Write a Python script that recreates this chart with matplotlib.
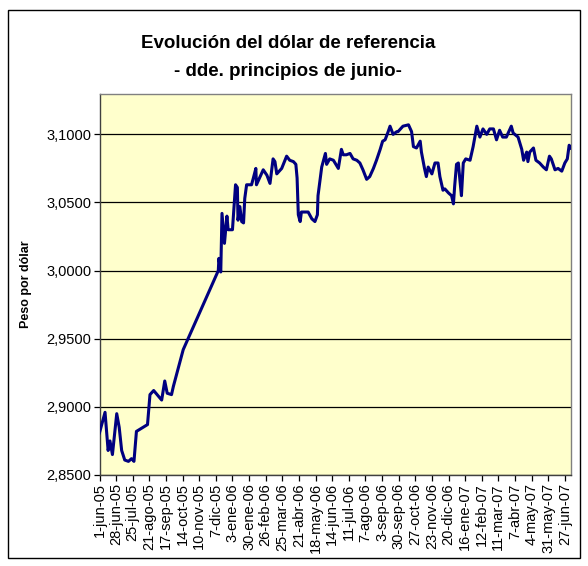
import numpy as np
import pandas as pd
import matplotlib
matplotlib.use('Agg')
import matplotlib.pyplot as plt
from matplotlib.ticker import FuncFormatter
from matplotlib.patches import Rectangle

plt.rcParams['font.family'] = ['Liberation Sans', 'DejaVu Sans']

# dolar de referencia
fechas = ['2005-06-01', '2005-06-10', '2005-06-15', '2005-06-18', '2005-06-22',
          '2005-06-29', '2005-07-03', '2005-07-07', '2005-07-12', '2005-07-18',
          '2005-07-23', '2005-07-27', '2005-07-31', '2005-08-18', '2005-08-22',
          '2005-08-28', '2005-09-10', '2005-09-15', '2005-09-19', '2005-09-26',
          '2005-09-29', '2005-10-15', '2005-12-11', '2005-12-12', '2005-12-15',
          '2005-12-17', '2005-12-21', '2005-12-25', '2005-12-27', '2006-01-03',
          '2006-01-08', '2006-01-11', '2006-01-12', '2006-01-15', '2006-01-18',
          '2006-01-21', '2006-01-23', '2006-01-26', '2006-02-03', '2006-02-06',
          '2006-02-10', '2006-02-11', '2006-02-17', '2006-02-22', '2006-02-28',
          '2006-03-05', '2006-03-10', '2006-03-13', '2006-03-16', '2006-03-24',
          '2006-04-01', '2006-04-06', '2006-04-12', '2006-04-16', '2006-04-18',
          '2006-04-19', '2006-04-20', '2006-04-23', '2006-04-25', '2006-05-06',
          '2006-05-12', '2006-05-17', '2006-05-21', '2006-05-22', '2006-05-28',
          '2006-06-03', '2006-06-05', '2006-06-10', '2006-06-16', '2006-06-20',
          '2006-06-24', '2006-06-29', '2006-07-02', '2006-07-07', '2006-07-13',
          '2006-07-18', '2006-07-24', '2006-07-29', '2006-08-03', '2006-08-09',
          '2006-08-14', '2006-08-20', '2006-08-25', '2006-08-31', '2006-09-04',
          '2006-09-08', '2006-09-13', '2006-09-16', '2006-09-21', '2006-09-27',
          '2006-09-29', '2006-10-07', '2006-10-16', '2006-10-21', '2006-10-24',
          '2006-10-29', '2006-11-04', '2006-11-06', '2006-11-11', '2006-11-14',
          '2006-11-17', '2006-11-23', '2006-11-28', '2006-12-03', '2006-12-06',
          '2006-12-11', '2006-12-14', '2006-12-20', '2006-12-25', '2006-12-28',
          '2006-12-30', '2007-01-02', '2007-01-05', '2007-01-07', '2007-01-10',
          '2007-01-13', '2007-01-17', '2007-01-24', '2007-01-29', '2007-02-04',
          '2007-02-09', '2007-02-14', '2007-02-20', '2007-02-25', '2007-03-03',
          '2007-03-08', '2007-03-13', '2007-03-18', '2007-03-24', '2007-04-01',
          '2007-04-04', '2007-04-12', '2007-04-18', '2007-04-21', '2007-04-26',
          '2007-04-28', '2007-05-01', '2007-05-07', '2007-05-11', '2007-05-17',
          '2007-05-23', '2007-05-28', '2007-06-02', '2007-06-05', '2007-06-11',
          '2007-06-16', '2007-06-22', '2007-06-27', '2007-07-01', '2007-07-04',
          '2007-07-07']
valores = [2.881, 2.896, 2.868, 2.875, 2.865, 2.895, 2.885, 2.868, 2.861, 2.860,
           2.862, 2.860, 2.882, 2.887, 2.909, 2.912, 2.905, 2.919, 2.910, 2.909,
           2.915, 2.942, 3.000, 3.009, 2.999, 3.042, 3.020, 3.040, 3.030, 3.030,
           3.063, 3.061, 3.037, 3.047, 3.036, 3.035, 3.053, 3.063, 3.063, 3.068,
           3.075, 3.063, 3.069, 3.074, 3.070, 3.064, 3.082, 3.080, 3.071, 3.075,
           3.084, 3.081, 3.080, 3.078, 3.068, 3.055, 3.041, 3.036, 3.043, 3.043,
           3.038, 3.036, 3.041, 3.055, 3.076, 3.086, 3.078, 3.082, 3.081, 3.078,
           3.075, 3.089, 3.085, 3.085, 3.086, 3.082, 3.081, 3.079, 3.074, 3.067,
           3.069, 3.075, 3.081, 3.089, 3.095, 3.096, 3.102, 3.106, 3.100, 3.102,
           3.102, 3.106, 3.107, 3.102, 3.091, 3.090, 3.095, 3.087, 3.075, 3.069,
           3.076, 3.071, 3.079, 3.079, 3.069, 3.059, 3.060, 3.057, 3.055, 3.049,
           3.062, 3.078, 3.079, 3.069, 3.055, 3.079, 3.082, 3.081, 3.091, 3.106,
           3.098, 3.104, 3.100, 3.104, 3.104, 3.096, 3.103, 3.098, 3.098, 3.106,
           3.101, 3.098, 3.089, 3.081, 3.087, 3.080, 3.087, 3.090, 3.081, 3.079,
           3.076, 3.074, 3.084, 3.082, 3.074, 3.075, 3.073, 3.079, 3.082, 3.092,
           3.090]

etiquetas_x = ['1-jun-05', '28-jun-05', '25-jul-05', '21-ago-05', '17-sep-05',
               '14-oct-05', '10-nov-05', '7-dic-05', '3-ene-06', '30-ene-06',
               '26-feb-06', '25-mar-06', '21-abr-06', '18-may-06', '14-jun-06',
               '11-jul-06', '7-ago-06', '3-sep-06', '30-sep-06', '27-oct-06',
               '23-nov-06', '20-dic-06', '16-ene-07', '12-feb-07', '11-mar-07',
               '7-abr-07', '4-may-07', '31-may-07', '27-jun-07']

fechas = pd.to_datetime(fechas)
ticks_x = pd.date_range('2005-06-01', periods=len(etiquetas_x), freq='27D')

fig = plt.figure(figsize=(5.88, 5.66), dpi=100)
# borde del area del grafico
fig.patches.append(Rectangle((8/588, 1-558/566), 572/588, 548/566,
                             transform=fig.transFigure, fill=False,
                             edgecolor='black', linewidth=1.0))

ax = fig.add_axes([99.5/588, 1-475/566, 471.5/588, 380.7/566])
ax.set_facecolor('#FFFFCC')
ax.plot(fechas, valores, color='#000080', linewidth=2.2, zorder=3)

ax.set_ylim(2.85, 3.1294)
ax.set_yticks(np.arange(2.85, 3.1001, 0.05))
ax.yaxis.set_major_formatter(FuncFormatter(lambda v, p: f'{v:.4f}'.replace('.', ',')))
ax.grid(axis='y', color='black', linewidth=0.9)
ax.set_axisbelow(True)

ax.set_xlim(pd.Timestamp('2005-06-01'), pd.Timestamp('2007-07-07'))
ax.set_xticks(ticks_x)
ax.set_xticklabels(etiquetas_x, rotation=90)
ax.tick_params(axis='both', direction='out', length=4, width=0.9,
               labelsize=10.5, color='black', pad=2)

for s in ['top', 'right']:
    ax.spines[s].set_color('#808080')
for s in ['left', 'bottom']:
    ax.spines[s].set_color('#404040')
for s in ax.spines.values():
    s.set_linewidth(1.0)

fig.text(0.49, 1-43/566, 'Evolución del dólar de referencia', ha='center',
         va='center', fontsize=13.5, fontweight='bold')
fig.text(0.49, 1-72/566, '- dde. principios de junio-', ha='center',
         va='center', fontsize=13.5, fontweight='bold')
ax.set_ylabel('Peso por dólar', fontsize=9, fontweight='bold', labelpad=10)

fig.savefig('out.png', dpi=100)
